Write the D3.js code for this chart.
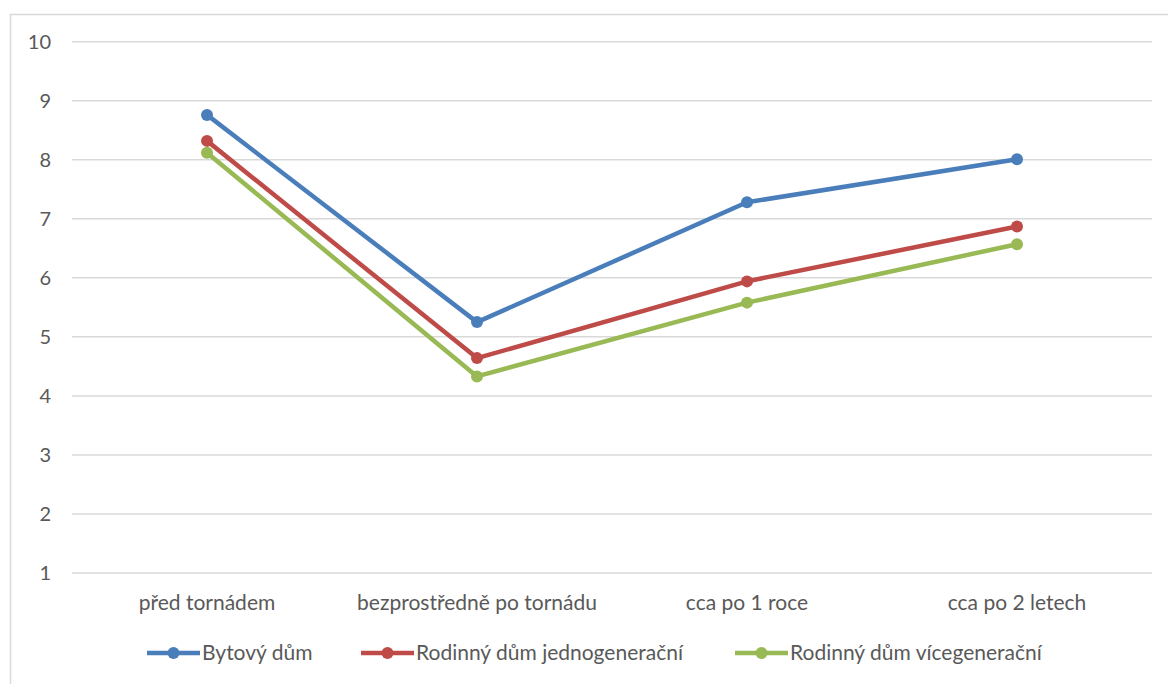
<!DOCTYPE html>
<html><head><meta charset="utf-8">
<script src="https://cdn.jsdelivr.net/npm/d3@7"></script>
<style>body{margin:0;background:#fff}svg{display:block}text{font-family:Lato,"Open Sans",sans-serif;fill:#595959}</style>
</head><body>
<svg id="c" width="1168" height="684"></svg>
<script>
const categories = ["před tornádem", "bezprostředně po tornádu", "cca po 1 roce", "cca po 2 letech"];
const seriesNames = ["Bytový dům", "Rodinný dům jednogenerační", "Rodinný dům vícegenerační"];
const bytovy = [8.76, 5.25, 7.28, 8.01];
const jednogen = [8.32, 4.64, 5.94, 6.87];
const vicegen = [8.12, 4.33, 5.58, 6.57];
const yTicks = [1, 2, 3, 4, 5, 6, 7, 8, 9, 10];
const colors = ["#4A7EBB", "#BE4B48", "#98B954"];

const series = [bytovy, jednogen, vicegen].map((v, i) => ({name: seriesNames[i], values: v, color: colors[i]}));

const svg = d3.select("#c");
svg.append("rect").attr("x", 10.5).attr("y", 14.5).attr("width", 1170).attr("height", 680)
  .attr("fill", "none").attr("stroke", "#d9d9d9").attr("stroke-width", 1.5);

const x = d3.scaleBand().domain(categories).range([72, 1152]);
const y = d3.scaleLinear().domain([1, 10]).range([573, 41.7]);

const g = svg.append("g");
g.selectAll("line.grid").data(yTicks).join("line").attr("class", "grid")
  .attr("x1", 72).attr("x2", 1152).attr("y1", d => y(d)).attr("y2", d => y(d))
  .attr("stroke", "#d9d9d9").attr("stroke-width", 1.5);

g.selectAll("text.yt").data(yTicks).join("text").attr("class", "yt")
  .attr("x", 51).attr("y", d => y(d)).attr("dy", "0.35em").attr("text-anchor", "end")
  .attr("font-size", 20).text(d => d);

g.selectAll("text.xt").data(categories).join("text").attr("class", "xt")
  .attr("x", d => x(d) + x.bandwidth() / 2).attr("y", 603).attr("dy", "0.35em")
  .attr("text-anchor", "middle").attr("font-size", 21).text(d => d);

const line = d3.line().x((d, i) => x(categories[i]) + x.bandwidth() / 2).y(d => y(d));
series.forEach(s => {
  g.append("path").attr("d", line(s.values)).attr("fill", "none").attr("stroke", s.color)
    .attr("stroke-width", 4.5).attr("stroke-linejoin", "round").attr("stroke-linecap", "round");
  g.selectAll(null).data(s.values).join("circle")
    .attr("cx", (d, i) => x(categories[i]) + x.bandwidth() / 2).attr("cy", d => y(d))
    .attr("r", 6).attr("fill", s.color);
});

const legX = [147, 361, 735];
const leg = svg.append("g");
series.forEach((s, i) => {
  const lg = leg.append("g").attr("transform", `translate(${legX[i]},653)`);
  lg.append("line").attr("x1", 0).attr("x2", 53).attr("stroke", s.color).attr("stroke-width", 4.5);
  lg.append("circle").attr("cx", 26.5).attr("r", 6).attr("fill", s.color);
  lg.append("text").attr("x", 55).attr("dy", "0.35em").attr("font-size", 21).text(s.name);
});
</script>
</body></html>
